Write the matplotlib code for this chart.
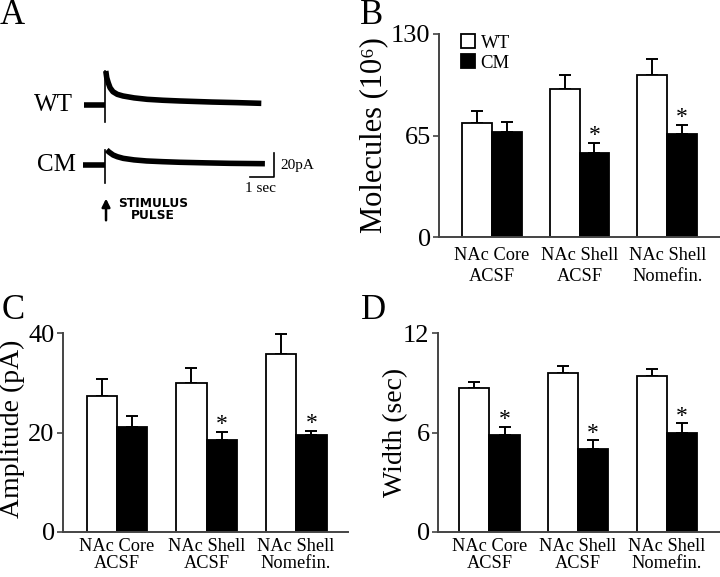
import matplotlib
matplotlib.use('Agg')
from matplotlib import pyplot as plt
import numpy as np

plt.rcParams['font.family'] = ['Liberation Serif', 'DejaVu Serif']

# x categories for bar panels
groups = ['NAc Core\nACSF', 'NAc Shell\nACSF', 'NAc Shell\nNomefin.']

# panel B - molecules (10^6)
mol_wt = [73, 95, 104]
mol_wt_err = [7.5, 8.5, 10]
mol_cm = [67, 54, 66]
mol_cm_err = [6.5, 6.5, 6]
mol_sig = [False, True, True]

# panel C - amplitude (pA)
amp_wt = [27.4, 30.0, 35.8]
amp_wt_err = [3.4, 3.0, 4.0]
amp_cm = [21.2, 18.4, 19.4]
amp_cm_err = [2.1, 1.8, 1.0]
amp_sig = [False, True, True]

# panel D - width (sec)
wid_wt = [8.66, 9.57, 9.43]
wid_wt_err = [0.4, 0.43, 0.42]
wid_cm = [5.85, 5.03, 5.99]
wid_cm_err = [0.5, 0.52, 0.58]
wid_sig = [True, True, True]

# panel A - example traces (time in s from stimulus, current in pA above baseline)
wt_pre_t = [-0.89, 0.0]
wt_pre_i = [0.0, 0.0]
wt_post_t = [0.02, 0.06, 0.125, 0.2, 0.32, 0.5, 0.74, 1.2, 1.74, 2.4, 3.1, 4.45, 5.5, 6.5]
wt_post_i = [28.7, 23.0, 18.6, 14.5, 11.2, 9.0, 7.6, 6.0, 4.8, 4.0, 3.4, 2.5, 2.0, 1.4]
wt_artifact = [-14.0, 28.7]

cm_pre_t = [-0.92, 0.0]
cm_pre_i = [0.0, 0.0]
cm_post_t = [0.06, 0.15, 0.33, 0.5, 0.75, 1.2, 1.72, 2.4, 3.1, 4.2, 5.2, 6.65]
cm_post_i = [12.7, 11.0, 8.4, 7.0, 5.6, 4.3, 3.4, 2.8, 2.3, 1.8, 1.4, 1.1]
cm_artifact = [-15.5, 12.7]

W, H = 720, 577
fig = plt.figure(figsize=(W / 100, H / 100), dpi=100)


def px_axes(left, top, right, bottom):
    return fig.add_axes([left / W, 1 - bottom / H, (right - left) / W, (bottom - top) / H])


def bar_panel(ax, wt, wt_err, cm, cm_err, sig, ymax, yticks, ylabel, xlim, label_xy,
              ylabel_size=20, tick_spacing=1.0, tick_pad=4):
    x = np.arange(len(groups))
    bw = 0.34
    ax.bar(x - bw / 2, wt, width=bw, color='white', edgecolor='black', linewidth=1.3, label='WT', zorder=2)
    ax.bar(x + bw / 2, cm, width=bw, color='black', edgecolor='black', linewidth=1.3, label='CM', zorder=2)
    ax.errorbar(x - bw / 2, wt, yerr=[np.zeros(len(wt)), wt_err], fmt='none', ecolor='black',
                elinewidth=1.4, capsize=4, capthick=1.4, zorder=1)
    ax.errorbar(x + bw / 2, cm, yerr=[np.zeros(len(cm)), cm_err], fmt='none', ecolor='black',
                elinewidth=1.4, capsize=4, capthick=1.4, zorder=1)
    for xi, v, e, s in zip(x, cm, cm_err, sig):
        if s:
            ax.annotate('*', (xi + bw / 2, v + e), xytext=(0, 1), textcoords='offset points',
                        ha='center', va='baseline', fontsize=17)
    ax.set_ylim(0, ymax)
    ax.set_xlim(*xlim)
    ax.set_yticks(yticks)
    ax.set_xticks(x)
    ax.set_xticklabels(groups, fontsize=13.2, linespacing=tick_spacing)
    ax.tick_params(axis='x', length=0, pad=tick_pad)
    ax.tick_params(axis='y', length=4, width=1.2, pad=2, labelsize=19, color='#444444')
    for side in ['top', 'right']:
        ax.spines[side].set_visible(False)
    for side in ['left', 'bottom']:
        ax.spines[side].set_color('#444444')
        ax.spines[side].set_linewidth(1.4)
    ax.set_ylabel(ylabel, fontsize=ylabel_size)
    ax.yaxis.set_label_coords(*label_xy)


# panel A
ax_a = px_axes(0, 0, 360, 288)
px_t, px_i = 24.0, 1.185
x0, y0 = 105.3, 165.0
ax_a.set_xlim(-x0 / px_t, (360 - x0) / px_t)
ax_a.set_ylim((y0 - 288) / px_i, y0 / px_i)
ax_a.axis('off')
wt_offset = (y0 - 105.0) / px_i
ax_a.plot(wt_pre_t, np.array(wt_pre_i) + wt_offset, color='black', lw=4, solid_capstyle='butt')
ax_a.plot(wt_post_t, np.array(wt_post_i) + wt_offset, color='black', lw=4, solid_capstyle='butt', solid_joinstyle='round')
ax_a.plot([0, 0], np.array(wt_artifact) + wt_offset, color='black', lw=1.2)
ax_a.plot(cm_pre_t, cm_pre_i, color='black', lw=4, solid_capstyle='butt')
ax_a.plot(cm_post_t, cm_post_i, color='black', lw=4, solid_capstyle='butt', solid_joinstyle='round')
ax_a.plot([0, 0], cm_artifact, color='black', lw=1.2)
ax_a.text(-1.36, wt_offset, 'WT', fontsize=18, ha='right', va='center')
ax_a.text(-1.22, 0, 'CM', fontsize=18, ha='right', va='center')
# scale bar 1 sec / 20 pA
ax_a.plot([6.04, 7.04, 7.04], [-10, -10, 10], color='black', lw=1.2)
ax_a.text(7.3, 0, '20pA', fontsize=11, ha='left', va='center')
ax_a.text(6.45, -14, '1 sec', fontsize=11, ha='center', va='top')
ax_a.annotate('', xy=(0.03, -26), xytext=(0.03, -49),
              arrowprops=dict(arrowstyle='-|>', color='black', lw=1.8, mutation_scale=12))
ax_a.text(2.0, -37.5, 'STIMULUS\nPULSE', fontsize=8.8, fontweight='bold', family='DejaVu Sans',
          ha='center', va='center', linespacing=0.95)

# panel B
ax_b = px_axes(439, 34, 720, 237)
bar_panel(ax_b, mol_wt, mol_wt_err, mol_cm, mol_cm_err, mol_sig, 130, [0, 65, 130],
          'Molecules (10\u2076)', (-0.6, 2.6), (-0.181, 0.5), ylabel_size=22,
          tick_spacing=1.3, tick_pad=7)
ax_b.legend(loc='upper left', bbox_to_anchor=(0.045, 1.045), frameon=False, fontsize=13.5,
            handlelength=0.75, handleheight=0.75, handletextpad=0.3, labelspacing=0.15, borderpad=0)

# panel C
ax_c = px_axes(63, 333, 348, 532)
bar_panel(ax_c, amp_wt, amp_wt_err, amp_cm, amp_cm_err, amp_sig, 40, [0, 20, 40],
          'Amplitude (pA)', (-0.603, 2.58), (-0.133, 0.52))

# panel D
ax_d = px_axes(438, 333, 720, 532)
bar_panel(ax_d, wid_wt, wid_wt_err, wid_cm, wid_cm_err, wid_sig, 12, [0, 6, 12],
          'Width (sec)', (-0.58, 2.6), (-0.106, 0.5))

for letter, lx, ly in [('A', 0, -1), ('B', 360, -1), ('C', 2, 294), ('D', 361, 294)]:
    fig.text(lx / W, 1 - ly / H, letter, fontsize=25, ha='left', va='top')

fig.savefig('out.png', dpi=100)
